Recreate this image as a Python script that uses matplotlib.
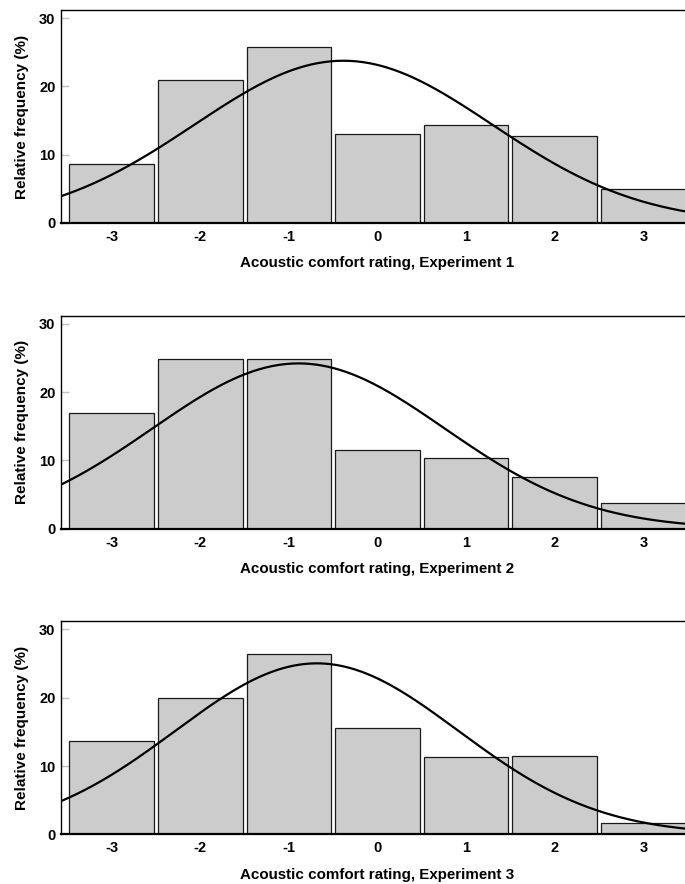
import numpy as np
import matplotlib
matplotlib.use("Agg")
import matplotlib.pyplot as plt

plt.rcParams['font.family'] = ['Liberation Sans', 'DejaVu Sans']

ratings = [-3, -2, -1, 0, 1, 2, 3]
exp1 = [8.7, 20.9, 25.8, 13.0, 14.4, 12.8, 5.0]
exp2 = [16.9, 24.8, 24.9, 11.6, 10.3, 7.5, 3.7]
exp3 = [13.6, 20.0, 26.4, 15.5, 11.3, 11.4, 1.6]
series = [exp1, exp2, exp3]
xlabels = ["Acoustic comfort rating, Experiment 1",
           "Acoustic comfort rating, Experiment 2",
           "Acoustic comfort rating, Experiment 3"]
ylabel = "Relative frequency (%)"
yticks = [0, 10, 20, 30]

W, H = 685, 884
fig = plt.figure(figsize=(W / 100, H / 100), dpi=100)

bottoms_px = [223, 528.7, 834.3]
ax_h_px = 213
left_px = 61
ax_w_px = 633

xmin, xmax = -3.57, 3.57
for i, (vals, xl) in enumerate(zip(series, xlabels)):
    ax = fig.add_axes([left_px / W, 1 - bottoms_px[i] / H, ax_w_px / W, ax_h_px / H])
    x = np.array(ratings, dtype=float)
    p = np.array(vals, dtype=float)
    ax.bar(x, p, width=0.955, color='#cccccc', edgecolor='#1a1a1a', linewidth=0.9, zorder=2)
    # fitted normal curve from the distribution
    w = p / p.sum()
    mu = np.sum(w * x)
    sd = np.sqrt(np.sum(w * (x - mu) ** 2))
    xs = np.linspace(xmin, xmax, 400)
    ys = 100 * np.exp(-0.5 * ((xs - mu) / sd) ** 2) / (sd * np.sqrt(2 * np.pi))
    ax.plot(xs, ys, color='black', linewidth=1.6, zorder=3)

    ax.set_xlim(xmin, xmax)
    ax.set_ylim(0, 31.2)
    ax.set_xticks(ratings)
    ax.set_xticklabels([str(r) for r in ratings])
    ax.set_yticks(yticks)
    ax.tick_params(axis='both', direction='in', length=6, width=1, color='#c0c0c0',
                   labelsize=10.5)
    ax.tick_params(axis='x', pad=5)
    ax.tick_params(axis='y', pad=4)
    for lab in ax.get_xticklabels() + ax.get_yticklabels():
        lab.set_fontweight('bold')
    ax.spines['right'].set_visible(False)
    ax.spines['top'].set_linewidth(1.0)
    ax.spines['left'].set_linewidth(1.0)
    ax.spines['bottom'].set_linewidth(1.6)
    for s in ax.spines.values():
        s.set_zorder(4)
    ax.set_xlabel(xl, fontsize=10.9, fontweight='bold', labelpad=9)
    ax.set_ylabel(ylabel, fontsize=11, fontweight='bold', labelpad=7)

fig.savefig("out.png", dpi=100)
